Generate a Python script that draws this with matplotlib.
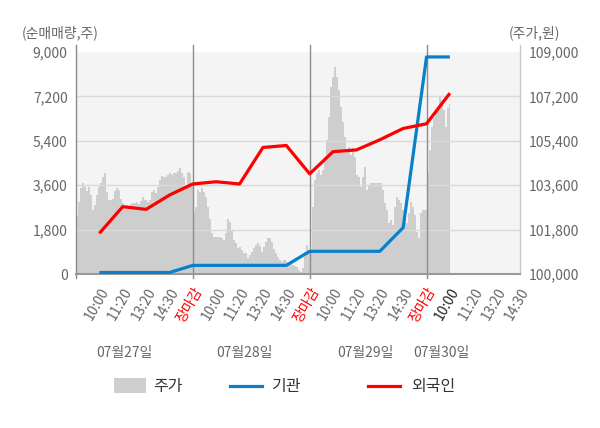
import numpy as np
import matplotlib
matplotlib.use('Agg')
import matplotlib.pyplot as plt
from matplotlib.patches import Rectangle
from matplotlib.lines import Line2D
from matplotlib.ticker import FuncFormatter

plt.rcParams['font.family'] = ['Noto Sans CJK KR', 'DejaVu Sans']

# 주가 (price, 원), sampled along each trading day
day1_price = [102350, 102930, 103470, 103670, 103540, 103370, 103510, 103200, 102590, 102790,
              103200, 103540, 103670, 103940, 104080, 103330, 103000, 103000, 103060, 103370,
              103470, 103400, 103060, 102860, 102730, 102790, 102750, 102840, 102860, 102890,
              102930, 102840, 102970, 103130, 103020, 102930, 103000, 103330, 103400, 103290,
              103540, 103810, 103970, 103940, 103920, 104010, 104080, 104010, 104080, 104100,
              104180, 104280, 104100, 103940, 103600, 104140, 104080, 103670]
day2_price = [102500, 102730, 103400, 103330, 103470, 103330, 103130, 102730, 102250, 101650,
              101490, 101490, 101490, 101490, 101440, 101380, 101650, 102250, 102120, 101780,
              101380, 101240, 101040, 101080, 100970, 100860, 100840, 100630, 100770, 100900,
              101040, 101170, 101270, 101130, 100900, 101080, 101310, 101440, 101440, 101310,
              101000, 100840, 100700, 100570, 100500, 100570, 100500, 100410, 100500, 100360,
              100320, 100270, 100160, 100090, 100230, 100900, 101170, 100970]
day3_price = [100970, 102730, 103810, 104080, 104210, 104010, 104210, 104750, 105430, 106370,
              107590, 107990, 108400, 107990, 107450, 106780, 106170, 105560, 105020, 105160,
              104820, 105090, 104750, 104010, 103940, 103540, 103940, 104350, 103400, 103600,
              103670, 103670, 103670, 103670, 103670, 103670, 103400, 102860, 102590, 102050,
              102190, 101980, 102730, 103130, 103000, 102860, 102590, 102190, 102050, 102460,
              102930, 102730, 102390, 101710, 101440, 102460, 102590, 102590]
day4_price = [104080, 105020, 105970, 106310, 106510, 106710, 107180, 107050, 106640, 105970,
              106710, 106910]

# 순매매량 (주), one value per time label
tick_x = np.arange(1, 17)
foreign = [1650, 2730, 2620, 3200, 3650, 3740, 3650, 5130, 5210, 4060, 4960, 5030, 5440, 5900, 6090, 7330]
inst = [60, 60, 60, 60, 350, 350, 350, 350, 350, 920, 920, 920, 920, 1880, 8800, 8800]

time_labels = ['10:00', '11:20', '13:20', '14:30', '장마감']
dates = ['07월27일', '07월28일', '07월29일', '07월30일']
date_pos = [124.5, 244.5, 365, 441]

GRAY = '#666666'

fig = plt.figure(figsize=(6, 4.28), dpi=100)
ax = fig.add_axes([76/600, 1-274/428, 444/600, 222/428])
ax2 = ax.twinx()
ax.set_zorder(2)
ax.patch.set_visible(False)
ax2.patch.set_visible(True)
ax2.patch.set_facecolor('#f4f4f4')

# price area
step = 5/58
px, py = [], []
for d, vals in enumerate([day1_price, day2_price, day3_price, day4_price]):
    for i, v in enumerate(vals):
        px.append(5*d + (i+0.5)*step)
        py.append(v)
ax2.fill_between(px, 100000, py, step='mid', color='#cecece', lw=0)
ax2.set_ylim(100000, 109000)
ax2.set_yticks(np.arange(100000, 109001, 1800))
ax2.yaxis.set_major_formatter(FuncFormatter(lambda v, p: f'{int(v):,}'))

ax.set_xlim(0, 19)
ax.set_ylim(0, 9000)
ax.set_yticks(np.arange(0, 9001, 1800))
ax.yaxis.set_major_formatter(FuncFormatter(lambda v, p: f'{int(v):,}'))
for yv in [1800, 3600, 5400, 7200]:
    ax.axhline(yv, color='#d9d9d9', lw=1, zorder=1)

ax.plot(tick_x, inst, color='#0a7fcc', lw=2.3, zorder=4, solid_capstyle='butt')
ax.plot(tick_x, foreign, color='#ff0000', lw=2.3, zorder=5, solid_capstyle='butt')

# day separators and frame
for xv in [5, 10, 15]:
    ax.axvline(xv, ymin=-0.02, ymax=1.03, color='#8c8c8c', lw=1, clip_on=False, zorder=3)
ax.axvline(0, ymin=-0.02, ymax=1.03, color='#8c8c8c', lw=1, clip_on=False, zorder=3)
ax.axvline(19, ymin=0, ymax=1.03, color='#c8c8c8', lw=1, clip_on=False, zorder=3)
for a in (ax, ax2):
    for s in a.spines.values():
        s.set_visible(False)
ax.axhline(0, color='#999999', lw=1.5, zorder=3, clip_on=False)

# x ticks
xt, xl = [], []
for d in range(4):
    labs = time_labels if d < 3 else time_labels[:4]
    for k, lab in enumerate(labs):
        xt.append(5*d + k + 1)
        xl.append(lab)
ax.set_xticks(xt)
ax.set_xticklabels(xl, rotation=60, ha='right', rotation_mode='anchor', fontsize=10)
for i, t in enumerate(ax.get_xticklabels()):
    if t.get_text() == '장마감':
        t.set_color('#ff0000')
    elif i == 15:
        t.set_color('#222222')
    else:
        t.set_color(GRAY)
ax.tick_params(axis='x', length=0, pad=8)
ax.tick_params(axis='y', length=0, pad=6, labelsize=10, labelcolor=GRAY)
ax2.tick_params(axis='y', length=0, pad=6, labelsize=10, labelcolor=GRAY)

fig.text(22/600, 1-33/428, '(순매매량,주)', ha='left', va='center', fontsize=10, color=GRAY)
fig.text(509/600, 1-33/428, '(주가,원)', ha='left', va='center', fontsize=10, color=GRAY)
for xp, lab in zip(date_pos, dates):
    fig.text(xp/600, 1-353/428, lab, ha='center', va='center', fontsize=10, color=GRAY)

# legend
ly = 1-386/428
fig.add_artist(Rectangle((114/600, 1-393/428), 32/600, 15/428, transform=fig.transFigure,
                         color='#cecece', lw=0))
fig.text(153/600, ly, '주가', ha='left', va='center', fontsize=11.5, color='#333333')
fig.add_artist(Line2D([230/600, 262/600], [ly, ly], transform=fig.transFigure, color='#0a7fcc', lw=2.3))
fig.text(271/600, ly, '기관', ha='left', va='center', fontsize=11.5, color='#333333')
fig.add_artist(Line2D([368/600, 400/600], [ly, ly], transform=fig.transFigure, color='#ff0000', lw=2.3))
fig.text(411/600, ly, '외국인', ha='left', va='center', fontsize=11.5, color='#333333')

plt.savefig('out.png', dpi=100)
